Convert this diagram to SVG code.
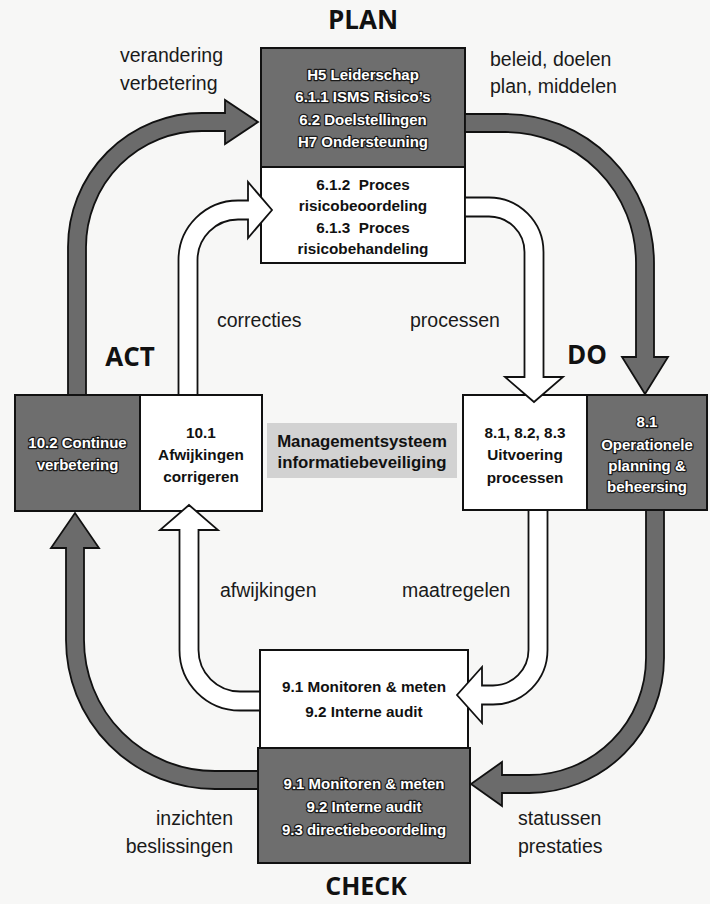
<svg xmlns="http://www.w3.org/2000/svg" width="710" height="904" viewBox="0 0 710 904">
<style>
.bg{fill:#f7f7f6}
.dk{fill:#6e6e6e;stroke:#111;stroke-width:2}
.wb{fill:#fff;stroke:#111;stroke-width:2}
.ctr{fill:#d2d2d2}
.bt{font-family:"Liberation Sans",Arial,sans-serif;font-weight:bold;font-size:15.3px;text-anchor:middle;fill:#111}
.wt{font-family:"Liberation Sans",Arial,sans-serif;font-weight:bold;font-size:15px;text-anchor:middle;fill:#fff;stroke:#1a1a1a;stroke-width:2.6px;paint-order:stroke;stroke-linejoin:round}
.ct{font-family:"Liberation Sans",Arial,sans-serif;font-weight:bold;font-size:16.8px;text-anchor:middle;fill:#111}
.lb{font-family:"Liberation Sans",Arial,sans-serif;font-size:19.5px;fill:#1a1a1a}
.ph{font-family:"Open Sans","Liberation Sans",sans-serif;font-weight:bold;font-size:26px;text-anchor:middle;fill:#111}
.da{fill:#6b6b6b;stroke:#111;stroke-width:1.8;stroke-linejoin:miter}
.wa{fill:#fff;stroke:#111;stroke-width:1.8;stroke-linejoin:miter}
</style>
<rect class="bg" x="0" y="0" width="710" height="904"/>

<g id="phase-labels">
<text class="ph" x="363" y="29">PLAN</text>
<text class="ph" x="130" y="366">ACT</text>
<text class="ph" x="587" y="364">DO</text>
<text class="ph" x="366" y="895" style="font-size:25px">CHECK</text>
</g>

<g id="node-plan-top">
<rect class="dk" x="261" y="48" width="204" height="119"/>
<text class="wt" x="363" y="80">H5 Leiderschap</text>
<text class="wt" x="363" y="102">6.1.1 ISMS Risico’s</text>
<text class="wt" x="363" y="125">6.2 Doelstellingen</text>
<text class="wt" x="363" y="147">H7 Ondersteuning</text>
</g>
<g id="node-plan-proces">
<rect class="wb" x="261" y="167" width="204" height="96"/>
<text class="bt" x="363" y="190" xml:space="preserve">6.1.2  Proces</text>
<text class="bt" x="363" y="211">risicobeoordeling</text>
<text class="bt" x="363" y="233" xml:space="preserve">6.1.3  Proces</text>
<text class="bt" x="363" y="254">risicobehandeling</text>
</g>

<g id="node-act-continue">
<rect class="dk" x="15" y="395" width="125" height="116"/>
<text class="wt" x="77.5" y="448">10.2 Continue</text>
<text class="wt" x="77.5" y="470">verbetering</text>
</g>
<g id="node-act-afwijkingen">
<rect class="wb" x="140" y="395" width="122" height="116"/>
<text class="bt" x="201" y="438">10.1</text>
<text class="bt" x="201" y="460">Afwijkingen</text>
<text class="bt" x="201" y="482">corrigeren</text>
</g>

<g id="node-center">
<rect class="ctr" x="267" y="423" width="190" height="55"/>
<text class="ct" x="362" y="447">Managementsysteem</text>
<text class="ct" x="362" y="468">informatiebeveiliging</text>
</g>

<g id="node-do-uitvoering">
<rect class="wb" x="463" y="395" width="124" height="115"/>
<text class="bt" x="525" y="438">8.1, 8.2, 8.3</text>
<text class="bt" x="525" y="460">Uitvoering</text>
<text class="bt" x="525" y="483">processen</text>
</g>
<g id="node-do-operationeel">
<rect class="dk" x="587" y="395" width="120" height="115"/>
<text class="wt" x="647" y="427">8.1</text>
<text class="wt" x="647" y="450">Operationele</text>
<text class="wt" x="647" y="471">planning &amp;</text>
<text class="wt" x="647" y="492">beheersing</text>
</g>

<g id="node-check-monitor">
<rect class="wb" x="260" y="650" width="208" height="98"/>
<text class="bt" x="364" y="692">9.1 Monitoren &amp; meten</text>
<text class="bt" x="364" y="717">9.2 Interne audit</text>
</g>
<g id="node-check-review">
<rect class="dk" x="258" y="748" width="212" height="115"/>
<text class="wt" x="364" y="789">9.1 Monitoren &amp; meten</text>
<text class="wt" x="364" y="812">9.2 Interne audit</text>
<text class="wt" x="364" y="835">9.3 directiebeoordeling</text>
</g>

<g id="connectors">
<path class="da" d="M68,395 L68,247 A134,134 0 0 1 202,113 L225,113 L225,100 L258,122 L225,144 L225,131 L202,131 A116,116 0 0 0 86,247 L86,395 Z"/>
<path class="da" d="M465,114 L505,114 A149,149 0 0 1 654,263 L654,357 L668,357 L645,394 L622,357 L636,357 L636,263 A131,131 0 0 0 505,132 L465,132 Z"/>
<path class="da" d="M646,510 L664,510 L664,658 A135,135 0 0 1 529,793 L502,793 L502,806 L471,784 L502,762 L502,775 L529,775 A117,117 0 0 0 646,658 Z"/>
<path class="da" d="M258,771 L258,789 L215,789 A149,149 0 0 1 66,640 L66,548 L51,548 L75,513 L99,548 L84,548 L84,640 A131,131 0 0 0 215,771 Z"/>
<path class="wa" d="M178.5,395 L178.5,260 A59.5,59.5 0 0 1 238,200.5 L248,200.5 L248,182 L272,210 L248,238 L248,219.5 L238,219.5 A40.5,40.5 0 0 0 197.5,260 L197.5,395 Z"/>
<path class="wa" d="M465,197.5 L489,197.5 A54.5,54.5 0 0 1 543.5,252 L543.5,377 L563,377 L534,402 L505,377 L524.5,377 L524.5,252 A35.5,35.5 0 0 0 489,216.5 L465,216.5 Z"/>
<path class="wa" d="M528.5,510 L547.5,510 L547.5,650 A54.5,54.5 0 0 1 493,704.5 L482,704.5 L482,723 L457,695 L482,667 L482,685.5 L493,685.5 A35.5,35.5 0 0 0 528.5,650 Z"/>
<path class="wa" d="M260,691.5 L260,710.5 L240,710.5 A60.5,60.5 0 0 1 179.5,650 L179.5,530 L160,530 L189,505 L218,530 L198.5,530 L198.5,650 A41.5,41.5 0 0 0 240,691.5 Z"/>
</g>

<g id="connector-labels">
<text class="lb" x="120" y="62">verandering</text>
<text class="lb" x="120" y="90">verbetering</text>
<text class="lb" x="490" y="66">beleid, doelen</text>
<text class="lb" x="490" y="93">plan, middelen</text>
<text class="lb" x="217" y="327">correcties</text>
<text class="lb" x="410" y="327">processen</text>
<text class="lb" x="220" y="597">afwijkingen</text>
<text class="lb" x="402" y="597">maatregelen</text>
<text class="lb" x="233" y="825" text-anchor="end">inzichten</text>
<text class="lb" x="233" y="853" text-anchor="end">beslissingen</text>
<text class="lb" x="518" y="825">statussen</text>
<text class="lb" x="518" y="853">prestaties</text>
</g>
</svg>
